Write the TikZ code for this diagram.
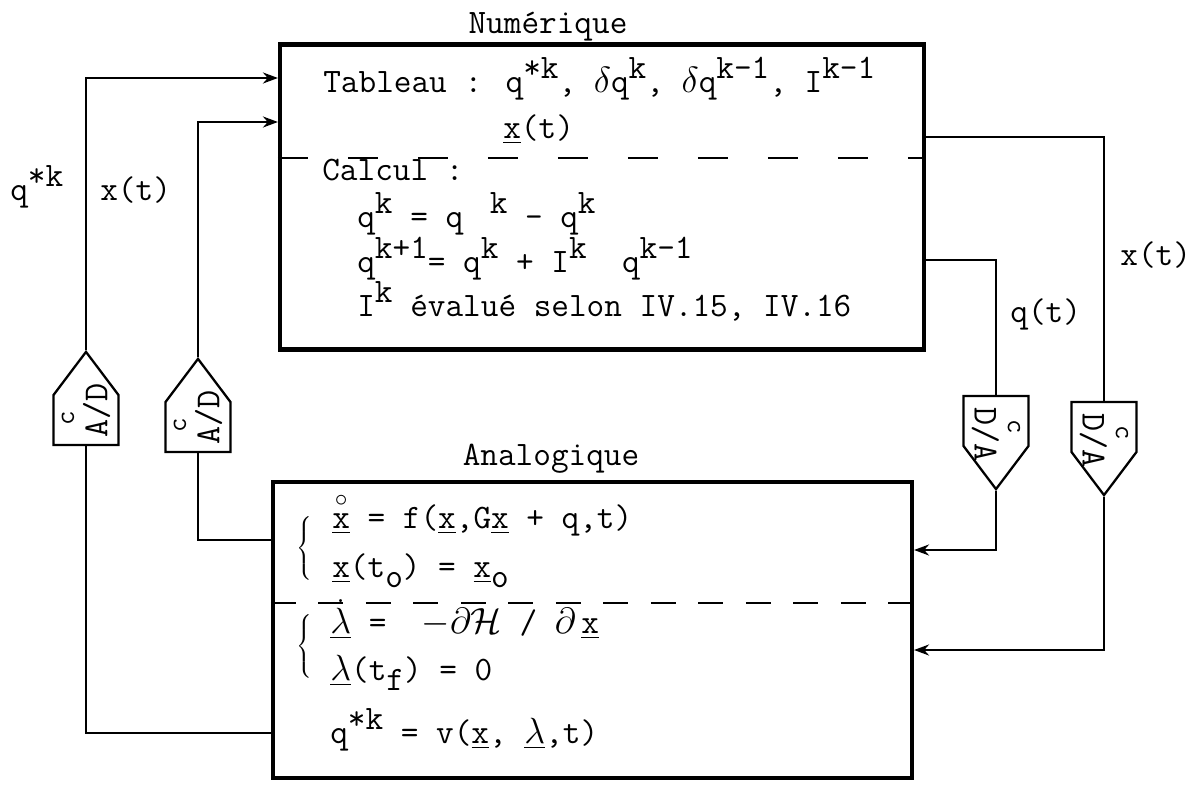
\documentclass[tikz,border=0pt]{standalone}
\usepackage{amsmath,amssymb}
\usepackage{graphicx}
\usepackage{tikz}
\usetikzlibrary{arrows.meta,shapes.symbols}
\newcommand{\hi}[1]{\raisebox{0.9ex}{#1}}
\newcommand{\lo}[1]{\raisebox{-0.7ex}{#1}}
\newcommand{\cc}{{\fontsize{16}{16}\selectfont c}}
% rotated converter labels (pointer up / pointer down)
\newcommand{\upconv}[1]{\makebox[1.3cm]{\raisebox{-0.35cm}[0.5cm][0.5cm]{\rotatebox{90}{\shortstack[l]{\hspace{0.35em}\cc\\[2pt]#1}}}}}
\newcommand{\dnconv}[1]{\makebox[1.3cm]{\raisebox{0.27cm}[0.5cm][0.5cm]{\rotatebox{-90}{\shortstack[l]{\hspace{0.35em}\cc\\[2pt]#1}}}}}

\begin{document}
\begin{tikzpicture}[
  x=0.02cm, y=-0.02cm,
  blk/.style={draw, line width=2.4pt, inner sep=0pt},
  conv/.style={draw, line width=1.3pt, shape=signal, signal pointer angle=74, inner sep=0pt, font=\fontsize{20}{20}\selectfont\ttfamily},
  txt/.style={anchor=base west, inner sep=0pt, font=\fontsize{19.5}{23}\selectfont\ttfamily},
  brc/.style={inner sep=0pt},
  lnk/.style={line width=1.3pt},
  arr/.style={-{Stealth[length=3mm,width=2.2mm]}},
  dsh/.style={line width=1.6pt, dash pattern=on 0.6cm off 0.8cm}
]
\useasboundingbox (0,0) rectangle (1198,791);

% Numerique block
\node[blk, minimum width=12.88cm, minimum height=6.1cm] (num) at (602,197) {};
\node[txt, anchor=base] (tNum) at (548,33) {Numérique};
\draw[dsh] (num.west |- 0,158) -- (num.east |- 0,158);
\node[txt] (tTab) at (323,92) {Tableau : q\hi{*k}, $\delta$q\hi{k}, $\delta$q\hi{k-1}, I\hi{k-1}};
\node[txt] (tXt) at (503,138) {\underline{x}(t)};
\node[txt] (tCal) at (322,180) {Calcul :};
\node[txt] (tC1) at (357,227) {q\hi{k} = q \hspace{0.26em}\hi{k} - q\hi{k}};
\node[txt] (tC2) at (357,272) {q\hi{k+1}= q\hi{k} + I\hi{k}\ \ q\hi{k-1}};
\node[txt] (tC3) at (357,316) {I\hi{k} évalué selon IV.15, IV.16};

% Analogique block
\node[blk, minimum width=12.78cm, minimum height=5.92cm] (ana) at (592.5,630) {};
\node[txt, anchor=base] (tAna) at (551,465) {Analogique};
\draw[dsh, dash pattern=on 0.5cm off 0.45cm] (ana.west |- 0,603) -- (ana.east |- 0,603);
\node[brc] (brA) at (305,550) {$\left\{\vphantom{\rule[-0.6cm]{0pt}{1.2cm}}\right.$};
\node[txt] (tA1) at (332,528) {$\overset{\circ}{\underline{\texttt{x}}}$ = f(\underline{x},G\underline{x} + q,t)};
\node[txt] (tA2) at (332,577) {\underline{x}(t\lo{o}) = \underline{x}\lo{o}};
\node[brc] (brB) at (305,648) {$\left\{\vphantom{\rule[-0.6cm]{0pt}{1.2cm}}\right.$};
\node[txt] (tA3) at (330,633) {$\dot{\underline{\lambda}}$ = \ $-\partial\mathcal{H}$ / $\partial$\,\underline{x}};
\node[txt] (tA4) at (330,680) {$\underline{\lambda}$(t\lo{f}) = 0};
\node[txt] (tA5) at (330,743) {q\hi{*k} = v(\underline{x}, $\underline{\lambda}$,t)};

% converters
\node[conv, signal to=north] (adQ) at (86,420) {\upconv{A/D}};
\node[conv, signal to=north] (adX) at (198,427) {\upconv{A/D}};
\node[conv, signal to=south] (daQ) at (996,421) {\dnconv{D/A}};
\node[conv, signal to=south] (daX) at (1104,427) {\dnconv{D/A}};

% links
\draw[lnk, arr] (adQ.north) |- (num.west |- 0,78);
\draw[lnk, arr] (adX.north) |- (num.west |- 0,122);
\draw[lnk] (ana.west |- 0,733) -| (adQ.south);
\draw[lnk] (ana.west |- 0,540) -| (adX.south);
\draw[lnk] (num.east |- 0,137) -| (daX.north);
\draw[lnk] (num.east |- 0,260) -| (daQ.north);
\draw[lnk, arr] (daQ.south) |- (ana.east |- 0,550);
\draw[lnk, arr] (daX.south) |- (ana.east |- 0,650);

% labels
\node[txt] (lQs) at (10,200) {q\hi{*k}};
\node[txt] (lXl) at (100,200) {x(t)};
\node[txt] (lXr) at (1120,265) {x(t)};
\node[txt] (lQr) at (1010,322) {q(t)};
\end{tikzpicture}
\end{document}
